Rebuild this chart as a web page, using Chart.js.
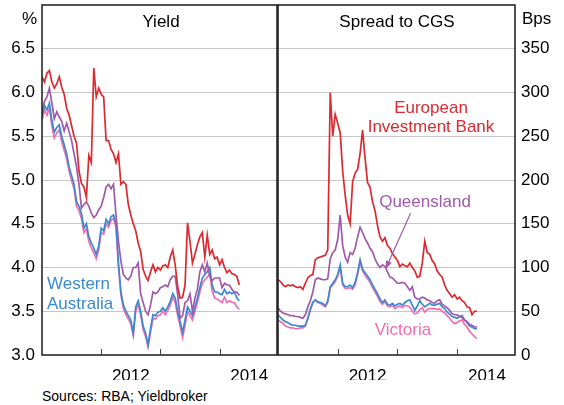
<!DOCTYPE html>
<html>
<head>
<meta charset="utf-8">
<script src="https://cdn.jsdelivr.net/npm/chart.js@4.4.1/dist/chart.umd.min.js"></script>
<style>
    body { margin: 0; background: #fff; }
    #wrap { position: relative; width: 564px; height: 405px; font-family: Arial, "Liberation Sans", sans-serif; color: #000; }
    canvas { position: absolute; top: 0; }
    .lbl { position: absolute; font-size: 17px; line-height: 17px; white-space: nowrap; }
    .mid { transform: translateX(-50%); text-align: center; }
</style>
</head>
<body>
<div id="wrap">
    <canvas id="yieldChart" width="278" height="380" style="left:0"></canvas>
    <canvas id="spreadChart" width="287" height="380" style="left:277px"></canvas>

    <div class="lbl" style="left:22px;top:10px">%</div>
    <div class="lbl" style="left:522px;top:10px">Bps</div>
    <div class="lbl mid" style="left:161px;top:13px">Yield</div>
    <div class="lbl mid" style="left:397px;top:13px">Spread to CGS</div>

    <div class="lbl mid" style="left:431px;top:98px;color:#dc2a30;line-height:19px">European<br>Investment Bank</div>
    <div class="lbl mid" style="left:425px;top:193px;color:#a05aab">Queensland</div>
    <div class="lbl mid" style="left:403px;top:321px;color:#f06eb0">Victoria</div>
    <div class="lbl" style="left:47px;top:274px;color:#3a89d1;line-height:20px">Western<br>Australia</div>

    <div class="lbl" style="left:42px;top:389px;font-size:14px;line-height:14px">Sources: RBA; Yieldbroker</div>
</div>

<script>
// half-monthly observations
const dates = [
    '2011-01-01','2011-01-16','2011-02-01','2011-02-16','2011-03-01','2011-03-16','2011-04-01','2011-04-16',
    '2011-05-01','2011-05-16','2011-06-01','2011-06-16','2011-07-01','2011-07-16','2011-08-01','2011-08-16',
    '2011-09-01','2011-09-16','2011-10-01','2011-10-16','2011-11-01','2011-11-16','2011-12-01','2011-12-16',
    '2012-01-01','2012-01-16','2012-02-01','2012-02-16','2012-03-01','2012-03-16','2012-04-01','2012-04-16',
    '2012-05-01','2012-05-16','2012-06-01','2012-06-16','2012-07-01','2012-07-16','2012-08-01','2012-08-16',
    '2012-09-01','2012-09-16','2012-10-01','2012-10-16','2012-11-01','2012-11-16','2012-12-01','2012-12-16',
    '2013-01-01','2013-01-16','2013-02-01','2013-02-16','2013-03-01','2013-03-16','2013-04-01','2013-04-16',
    '2013-05-01','2013-05-16','2013-06-01','2013-06-16','2013-07-01','2013-07-16','2013-08-01','2013-08-16',
    '2013-09-01','2013-09-16','2013-10-01','2013-10-16','2013-11-01','2013-11-16','2013-12-01','2013-12-16',
    '2014-01-01','2014-01-16','2014-02-01','2014-02-16','2014-03-01','2014-03-16','2014-04-01','2014-04-16',
    '2014-05-01'
];

// Yield, per cent
const yieldEib = [
    6.18, 6.12, 6.22, 6.25, 6.12, 6.05, 6.10, 6.18, 6.06, 5.98,
    5.82, 5.74, 5.62, 5.50, 5.42, 5.10, 4.96, 4.92, 4.80, 5.28,
    5.20, 6.28, 5.95, 6.05, 5.98, 5.95, 5.45, 5.45, 5.35, 5.30,
    5.20, 5.30, 4.95, 4.98, 4.95, 4.72, 4.60, 4.50, 4.42, 4.28,
    4.18, 3.98, 3.90, 3.85, 3.95, 4.03, 3.95, 4.00, 3.97, 4.02,
    4.03, 4.00, 4.12, 4.20, 4.03, 3.78, 3.65, 3.66, 3.80, 4.51,
    4.30, 4.05, 4.15, 4.26, 4.35, 4.40, 4.12, 4.37, 4.15, 4.20,
    4.10, 4.12, 4.03, 4.09, 4.00, 3.94, 3.97, 3.93, 3.92, 3.90,
    3.80
];
const yieldQld = [
    5.78, 5.90, 5.95, 6.05, 5.88, 5.70, 5.78, 5.72, 5.67, 5.56,
    5.65, 5.55, 5.45, 5.30, 5.15, 4.95, 4.68, 4.72, 4.75, 4.70,
    4.62, 4.57, 4.60, 4.66, 4.70, 4.80, 4.92, 4.95, 4.90, 4.95,
    4.60, 4.30, 4.07, 3.92, 3.88, 3.86, 3.90, 4.00, 4.00, 4.05,
    3.70, 3.60, 3.50, 3.46, 3.57, 3.72, 3.70, 3.72, 3.77, 3.78,
    3.80, 3.78, 3.86, 3.90, 3.90, 3.69, 3.42, 3.45, 3.60, 3.62,
    3.70, 3.50, 3.65, 3.75, 3.95, 4.03, 3.95, 4.05, 3.90, 3.85,
    3.88, 3.88, 3.88, 3.77, 3.82, 3.80, 3.80, 3.75, 3.72, 3.72,
    3.68
];
const yieldWa = [
    5.73, 5.85, 5.80, 5.88, 5.68, 5.55, 5.60, 5.63, 5.50, 5.40,
    5.30, 5.15, 5.05, 4.95, 4.75, 4.70, 4.62, 4.45, 4.50, 4.35,
    4.28, 4.22, 4.15, 4.25, 4.45, 4.42, 4.55, 4.50, 4.58, 4.60,
    4.50, 4.05, 3.72, 3.57, 3.50, 3.45, 3.40, 3.25, 3.55, 3.62,
    3.50, 3.33, 3.25, 3.12, 3.30, 3.46, 3.45, 3.49, 3.50, 3.54,
    3.50, 3.55, 3.61, 3.70, 3.65, 3.50, 3.38, 3.26, 3.40, 3.55,
    3.50, 3.45, 3.55, 3.65, 3.77, 3.88, 3.92, 3.95, 4.00, 3.80,
    3.72, 3.72, 3.70, 3.69, 3.75, 3.70, 3.72, 3.70, 3.72, 3.65,
    3.62
];
const yieldVic = [
    5.68, 5.80, 5.74, 5.82, 5.62, 5.48, 5.54, 5.57, 5.44, 5.34,
    5.24, 5.10, 4.99, 4.90, 4.70, 4.65, 4.56, 4.40, 4.44, 4.30,
    4.22, 4.17, 4.10, 4.20, 4.40, 4.38, 4.50, 4.46, 4.54, 4.56,
    4.46, 4.00, 3.68, 3.53, 3.46, 3.41, 3.36, 3.22, 3.50, 3.58,
    3.46, 3.29, 3.21, 3.09, 3.26, 3.42, 3.41, 3.45, 3.46, 3.50,
    3.46, 3.51, 3.57, 3.66, 3.60, 3.45, 3.33, 3.20, 3.34, 3.50,
    3.45, 3.40, 3.50, 3.60, 3.72, 3.82, 3.86, 3.89, 3.93, 3.73,
    3.65, 3.64, 3.62, 3.60, 3.66, 3.60, 3.62, 3.60, 3.60, 3.55,
    3.52
];

// Spread to CGS, basis points
const spreadEib = [
    86, 84, 80, 78, 80, 79, 80, 78, 77, 78,
    75, 82, 88, 91, 92, 109, 111, 112, 113, 114,
    120, 300, 250, 275, 265, 254, 210, 183, 160, 150,
    198, 208, 212, 230, 257, 225, 197, 192, 175, 165,
    148, 135, 130, 134, 125, 122, 116, 112, 108, 101,
    104, 102, 101, 105, 100, 96, 89, 90, 105, 130,
    117, 115, 108, 104, 96, 92, 89, 80, 74, 70,
    66, 69, 64, 66, 62, 60, 55, 54, 46, 50,
    50
];
const spreadQld = [
    54, 50, 48, 47, 46, 45, 45, 44, 44, 43,
    42, 46, 55, 62, 72, 86, 88, 87, 86, 86,
    87, 110, 117, 120, 132, 160, 125, 112, 106, 117,
    115, 122, 135, 146, 140, 133, 128, 122, 118, 110,
    104, 100, 103, 101, 95, 89, 88, 85, 82, 82,
    83, 82, 78, 74, 78, 66, 64, 64, 66, 65,
    63, 62, 60, 59, 62, 63, 58, 56, 54, 51,
    47, 46, 46, 44, 43, 40, 38, 35, 34, 32,
    32
];
const spreadWa = [
    46, 43, 40, 38, 37, 35, 34, 34, 33, 33,
    33, 34, 42, 52, 60, 63, 61, 60, 59, 56,
    62, 78, 82, 86, 92, 103, 82, 78, 78, 80,
    77, 83, 94, 109, 98, 94, 90, 86, 80, 75,
    70, 64, 60, 63, 58, 57, 59, 56, 58, 59,
    57, 60, 62, 63, 57, 51, 56, 62, 58, 55,
    57, 59, 57, 57, 58, 59, 55, 53, 49, 47,
    44, 43, 42, 44, 45, 40, 37, 33, 32, 30,
    30
];
const spreadVic = [
    40, 38, 36, 33, 32, 31, 31, 30, 30, 31,
    31, 33, 42, 52, 60, 63, 60, 59, 57, 55,
    60, 77, 80, 84, 90, 100, 80, 76, 76, 77,
    75, 80, 92, 106, 96, 91, 87, 83, 77, 72,
    67, 61, 58, 61, 56, 55, 57, 53, 55, 56,
    54, 57, 56, 55, 50, 47, 48, 52, 54, 49,
    52, 53, 53, 53, 52, 53, 50, 48, 45, 42,
    38, 36, 37, 39, 40, 35, 32, 27, 24, 21,
    19
];

// axis ticks
const yieldTicks = [3, 3.5, 4, 4.5, 5, 5.5, 6, 6.5, 7];
const spreadTicks = [0, 50, 100, 150, 200, 250, 300, 350, 400];
const yearTicks = [2012, 2013, 2014];
const yearLabels = ['2012', '2014'];

const FONT = 'Arial, "Liberation Sans", sans-serif';
const COLORS = { eib: '#dc2a30', qld: '#a05aab', wa: '#3a89d1', vic: '#f06eb0' };

const toYear = s => {
    const [y, m, d] = s.split('-').map(Number);
    return y + (m - 1) / 12 + (d - 1) / 360;
};
const xs = dates.map(toYear);
const points = vals => vals.map((v, i) => ({ x: xs[i], y: v }));

const line = (vals, color) => ({
    data: points(vals),
    borderColor: color,
    borderWidth: 1.7,
    pointRadius: 0,
    tension: 0,
    fill: false
});

// box around each panel plus inward year ticks
const panelFrame = {
    id: 'panelFrame',
    afterDraw(chart) {
        const { ctx, chartArea: a, scales: { x } } = chart;
        ctx.save();
        ctx.strokeStyle = '#1a1a1a';
        ctx.lineWidth = 1.5;
        ctx.strokeRect(a.left, a.top, a.right - a.left, a.bottom - a.top);
        ctx.lineWidth = 1;
        ctx.strokeStyle = '#444';
        yearTicks.forEach(t => {
            const px = Math.round(x.getPixelForValue(t)) + 0.5;
            ctx.beginPath();
            ctx.moveTo(px, a.bottom);
            ctx.lineTo(px, a.bottom - 6);
            ctx.stroke();
        });
        ctx.restore();
    }
};

// arrow pointing at the Queensland line
const qldArrow = {
    id: 'qldArrow',
    afterDatasetsDraw(chart) {
        const { ctx, scales: { x, y } } = chart;
        const x0 = x.getPixelForValue(2013.22), y0 = y.getPixelForValue(162);
        const x1 = x.getPixelForValue(2012.80), y1 = y.getPixelForValue(98);
        const ang = Math.atan2(y1 - y0, x1 - x0);
        ctx.save();
        ctx.strokeStyle = COLORS.qld;
        ctx.fillStyle = COLORS.qld;
        ctx.lineWidth = 1.2;
        ctx.beginPath();
        ctx.moveTo(x0, y0);
        ctx.lineTo(x1 - 6 * Math.cos(ang), y1 - 6 * Math.sin(ang));
        ctx.stroke();
        ctx.beginPath();
        ctx.moveTo(x1, y1);
        ctx.lineTo(x1 - 9 * Math.cos(ang - 0.35), y1 - 9 * Math.sin(ang - 0.35));
        ctx.lineTo(x1 - 9 * Math.cos(ang + 0.35), y1 - 9 * Math.sin(ang + 0.35));
        ctx.closePath();
        ctx.fill();
        ctx.restore();
    }
};

function xScale() {
    return {
        type: 'linear',
        min: 2011,
        max: 2014.97,
        afterBuildTicks: s => { s.ticks = yearLabels.map(l => ({ value: Number(l) + 0.5 })); },
        afterFit: s => { s.height = 25; s.paddingLeft = 0; s.paddingRight = 0; },
        ticks: {
            callback: v => String(Math.floor(v)),
            font: { size: 17, family: FONT },
            color: '#000',
            padding: 11,
            maxRotation: 0,
            autoSkip: false
        },
        grid: { display: false, drawTicks: false },
        border: { display: false }
    };
}

function yScale(tickVals, pos, width, pad, fmt) {
    const lo = tickVals[0], hi = tickVals[tickVals.length - 1];
    return {
        position: pos,
        min: lo,
        max: hi,
        afterBuildTicks: s => { s.ticks = tickVals.map(v => ({ value: v })); },
        afterFit: s => { s.width = width; s.paddingTop = 0; s.paddingBottom = 0; },
        ticks: {
            callback: v => v === hi ? '' : fmt(v),
            font: { size: 17, family: FONT },
            color: '#000',
            padding: pad
        },
        grid: {
            drawTicks: false,
            lineWidth: 1,
            color: c => (c.tick && (c.tick.value === lo || c.tick.value === hi)) ? 'rgba(0,0,0,0)' : '#c6c6c6'
        },
        border: { display: false }
    };
}

function baseOptions(padding, y) {
    return {
        responsive: false,
        animation: false,
        events: [],
        layout: { padding },
        plugins: { legend: { display: false }, tooltip: { enabled: false } },
        scales: { x: xScale(), y }
    };
}

new Chart(document.getElementById('yieldChart'), {
    type: 'line',
    data: {
        datasets: [
            line(yieldEib, COLORS.eib),
            line(yieldQld, COLORS.qld),
            line(yieldWa, COLORS.wa),
            line(yieldVic, COLORS.vic)
        ]
    },
    options: baseOptions({ top: 5, right: 1, left: 0, bottom: 0 },
        yScale(yieldTicks, 'left', 42, 7, v => v.toFixed(1))),
    plugins: [panelFrame]
});

new Chart(document.getElementById('spreadChart'), {
    type: 'line',
    data: {
        datasets: [
            line(spreadEib, COLORS.eib),
            line(spreadQld, COLORS.qld),
            line(spreadWa, COLORS.wa),
            line(spreadVic, COLORS.vic)
        ]
    },
    options: baseOptions({ top: 5, right: 0, left: 1, bottom: 0 },
        yScale(spreadTicks, 'right', 49, 6, v => String(v))),
    plugins: [panelFrame, qldArrow]
});
</script>
</body>
</html>
